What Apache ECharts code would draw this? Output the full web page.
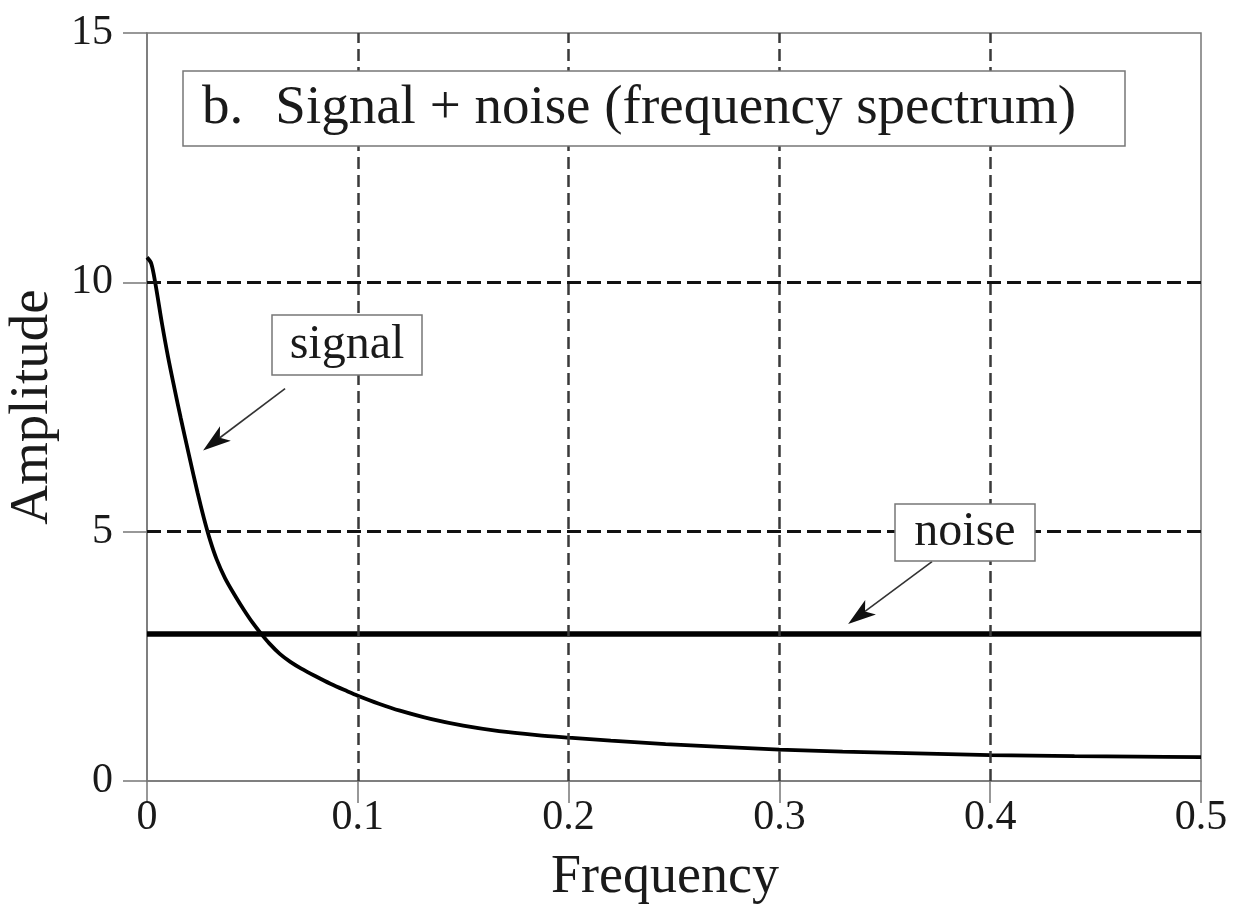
<!DOCTYPE html>
<html>
<head>
<meta charset="utf-8">
<script src="https://cdn.jsdelivr.net/npm/echarts@6/dist/echarts.min.js"></script>
<style>
  html, body { margin: 0; padding: 0; background: #fff; }
  #chart { width: 1253px; height: 910px; }
</style>
</head>
<body>
<div id="chart"></div>
<script>
// Frequency spectrum of a decaying signal plus flat white noise
const sigFreq = [0, 0.002, 0.004, 0.007, 0.01, 0.013, 0.016, 0.02, 0.024, 0.027,
  0.03, 0.033, 0.037, 0.042, 0.046, 0.05, 0.054, 0.058, 0.063, 0.068,
  0.073, 0.08, 0.087, 0.095, 0.1, 0.11, 0.12, 0.135, 0.15, 0.167,
  0.185, 0.2, 0.22, 0.246, 0.27, 0.3, 0.33, 0.36, 0.4, 0.44, 0.47, 0.5];
const sigAmp = [10.5, 10.38, 9.97, 9.2, 8.5, 7.88, 7.28, 6.52, 5.78, 5.27,
  4.82, 4.45, 4.07, 3.7, 3.43, 3.18, 2.96, 2.76, 2.55, 2.39,
  2.26, 2.1, 1.95, 1.8, 1.71, 1.55, 1.41, 1.24, 1.11, 1.0,
  0.92, 0.87, 0.81, 0.74, 0.69, 0.63, 0.59, 0.56, 0.52, 0.5, 0.49, 0.48];
const noiseFreq = [0, 0.5];
const noiseAmp = [2.95, 2.95];

const xTicks = [0, 0.1, 0.2, 0.3, 0.4, 0.5];
const yTicks = [0, 5, 10, 15];
const gridFreq = [0.1, 0.2, 0.3, 0.4];
const gridAmp = [5, 10];

// annotation arrows: [freq, amplitude] of tail and tip
const signalArrow = [[0.0655, 7.87], [0.0266, 6.63]];
const noiseArrow = [[0.3724, 4.40], [0.3326, 3.15]];

const titleText = 'b.\u2004 Signal + noise (frequency spectrum)';
const signalText = 'signal';
const noiseText = 'noise';

const serif = '"Liberation Serif", "Times New Roman", serif';
const ink = '#1a1a1a';
const frame = '#777';

const chart = echarts.init(document.getElementById('chart'));

chart.setOption({
  animation: false,
  backgroundColor: '#fff',
  grid: {
    left: 147, right: 52, top: 33, bottom: 129,
    outerBoundsMode: 'none', containLabel: false,
    show: true, borderColor: frame, borderWidth: 1.5, backgroundColor: 'transparent'
  },
  xAxis: {
    type: 'value', min: xTicks[0], max: xTicks[xTicks.length - 1], interval: 0.1,
    name: 'Frequency', nameLocation: 'middle', nameGap: 70,
    nameTextStyle: { fontFamily: serif, fontSize: 54, color: ink, padding: [0, 18, 0, 0] },
    axisLine: { show: true, lineStyle: { color: frame, width: 1.5 } },
    axisTick: { show: true, inside: false, length: 22, lineStyle: { color: frame, width: 1.5 } },
    axisLabel: {
      fontFamily: serif, fontSize: 42, color: ink, margin: 16,
      formatter: v => String(Math.round(v * 10) / 10)
    },
    splitLine: { show: false }
  },
  yAxis: {
    type: 'value', min: yTicks[0], max: yTicks[yTicks.length - 1], interval: 5,
    name: 'Amplitude', nameLocation: 'middle', nameGap: 70,
    nameTextStyle: { fontFamily: serif, fontSize: 55, color: ink },
    axisLine: { show: true, lineStyle: { color: frame, width: 1.5 } },
    axisTick: { show: true, inside: false, length: 24, lineStyle: { color: frame, width: 1.5 } },
    axisLabel: { fontFamily: serif, fontSize: 42, color: ink, margin: 34 },
    splitLine: { show: false }
  },
  series: [
    {
      // dashed grid lines
      type: 'line', data: [], silent: true, z: 1,
      markLine: {
        silent: true, symbol: 'none', label: { show: false }, animation: false,
        data: [
          ...gridFreq.map(f => ({ xAxis: f, lineStyle: { color: '#3a3a3a', width: 2.5, type: [12, 6] } })),
          ...gridAmp.map(a => ({ yAxis: a, lineStyle: { color: '#111', width: 3, type: [14, 6] } }))
        ]
      }
    },
    {
      name: 'noise', type: 'line', z: 3,
      data: noiseFreq.map((f, i) => [f, noiseAmp[i]]),
      showSymbol: false, symbol: 'none',
      lineStyle: { color: '#000', width: 5.5 }
    },
    {
      name: 'signal', type: 'line', z: 4, smooth: 0.3,
      data: sigFreq.map((f, i) => [f, sigAmp[i]]),
      showSymbol: false, symbol: 'none',
      lineStyle: { color: '#000', width: 3.8 }
    }
  ]
});

// Pointer arrow from a label box to a curve, placed through the axes' scales
function arrowGraphics(arrow) {
  const tail = chart.convertToPixel({ gridIndex: 0 }, arrow[0]);
  const tip = chart.convertToPixel({ gridIndex: 0 }, arrow[1]);
  const dx = tip[0] - tail[0], dy = tip[1] - tail[1];
  const len = Math.hypot(dx, dy);
  const ux = dx / len, uy = dy / len;      // along the shaft
  const nx = -uy, ny = ux;                 // normal
  const headLen = 28, halfW = 9, notch = 21;
  const back = [tip[0] - ux * headLen, tip[1] - uy * headLen];
  const inner = [tip[0] - ux * notch, tip[1] - uy * notch];
  return [
    { type: 'line', z: 50, silent: true,
      shape: { x1: tail[0], y1: tail[1], x2: inner[0], y2: inner[1] },
      style: { stroke: '#333', lineWidth: 1.6 } },
    { type: 'polygon', z: 50, silent: true,
      shape: { points: [
        tip,
        [back[0] + nx * halfW, back[1] + ny * halfW],
        inner,
        [back[0] - nx * halfW, back[1] - ny * halfW]
      ] },
      style: { fill: '#111' } }
  ];
}

chart.setOption({
  graphic: [
    ...arrowGraphics(signalArrow),
    ...arrowGraphics(noiseArrow),
    { type: 'rect', z: 100, shape: { x: 183, y: 71, width: 942, height: 75 },
      style: { fill: '#fff', stroke: frame, lineWidth: 1.5 } },
    { type: 'text', z: 101, x: 202, y: 109,
      style: { text: titleText, font: '55px ' + serif, fill: ink, verticalAlign: 'middle' } },
    { type: 'rect', z: 100, shape: { x: 272, y: 315, width: 150, height: 60 },
      style: { fill: '#fff', stroke: frame, lineWidth: 1.5 } },
    { type: 'text', z: 101, x: 347, y: 345,
      style: { text: signalText, font: '48px ' + serif, fill: ink, align: 'center', verticalAlign: 'middle' } },
    { type: 'rect', z: 100, shape: { x: 895, y: 504, width: 140, height: 57 },
      style: { fill: '#fff', stroke: frame, lineWidth: 1.5 } },
    { type: 'text', z: 101, x: 965, y: 532,
      style: { text: noiseText, font: '48px ' + serif, fill: ink, align: 'center', verticalAlign: 'middle' } }
  ]
});
</script>
</body>
</html>
